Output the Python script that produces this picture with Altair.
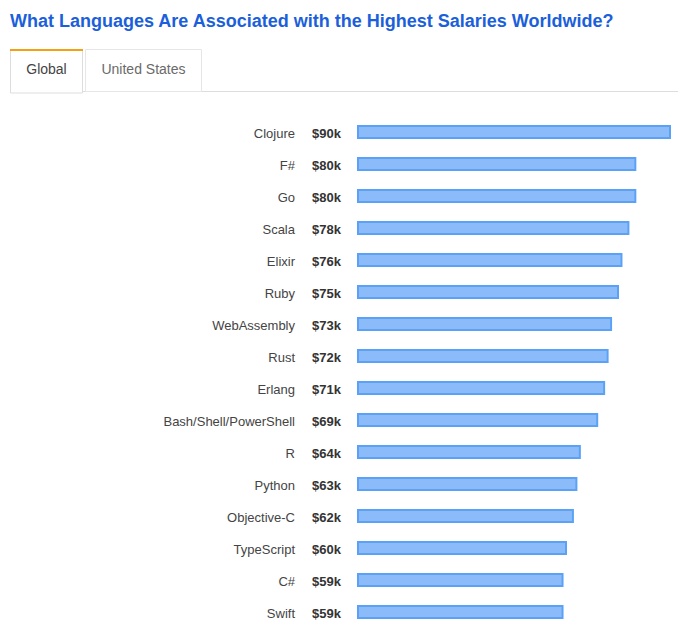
import altair as alt
import pandas as pd

title_text = "What Languages Are Associated with the Highest Salaries Worldwide?"
tab_labels = ["Global", "United States"]

languages = ["Clojure", "F#", "Go", "Scala", "Elixir", "Ruby", "WebAssembly", "Rust",
             "Erlang", "Bash/Shell/PowerShell", "R", "Python", "Objective-C",
             "TypeScript", "C#", "Swift"]
salaries_k = [90, 80, 80, 78, 76, 75, 73, 72, 71, 69, 64, 63, 62, 60, 59, 59]

df = pd.DataFrame({
    "lang": languages,
    "salary": salaries_k,
    "label": [f"${v}k" for v in salaries_k],
})

yscale = alt.Scale(range=[116, 628], paddingInner=0, paddingOuter=0)
yenc = alt.Y("lang:N", sort=None, scale=yscale, axis=None)

base = alt.Chart(df)

bars = base.mark_bar(size=12, fill="#8bbcf9", stroke="#5ba2f7", strokeWidth=2,
                     cornerRadius=0).encode(
    x=alt.X("salary:Q", scale=alt.Scale(domain=[0, 90], range=[358, 670], zero=True, nice=False),
            axis=None),
    y=yenc,
)

names = base.mark_text(align="right", baseline="middle", fontSize=13, dy=2,
                       font="Liberation Sans", color="#444444").encode(
    x=alt.value(295), y=yenc, text="lang:N")

vals = base.mark_text(align="left", baseline="middle", fontSize=13, fontWeight="bold", dy=2,
                      font="Liberation Sans", color="#333333").encode(
    x=alt.value(312), y=yenc, text="label:N")

one = alt.Chart(pd.DataFrame({"t": [title_text]}))
title = one.mark_text(align="left", baseline="alphabetic", fontSize=18, fontWeight="bold",
                      font="Liberation Sans", color="#1b5fdb").encode(
    x=alt.value(10), y=alt.value(27), text="t:N")

dummy = alt.Chart(pd.DataFrame({"a": [0]}))
bottom_line = dummy.mark_rule(color="#dddddd", strokeWidth=1).encode(
    x=alt.value(82), x2=alt.value(678), y=alt.value(91.5))
tab_us = dummy.mark_rect(fill="white", stroke="#e6e6e6", strokeWidth=1).encode(
    x=alt.value(85.5), x2=alt.value(201.5), y=alt.value(49.5), y2=alt.value(91.5))
tab_global = dummy.mark_rect(fill="white", stroke="#dddddd", strokeWidth=1).encode(
    x=alt.value(10.5), x2=alt.value(82.5), y=alt.value(50), y2=alt.value(93))
tab_orange = dummy.mark_rect(fill="#f5a011", stroke=None).encode(
    x=alt.value(10), x2=alt.value(83), y=alt.value(49), y2=alt.value(51))

tab_df = pd.DataFrame({"t": tab_labels, "x": [46.5, 143.5], "c": ["#444444", "#6a6a6a"]})
tab_text = alt.Chart(tab_df).mark_text(align="center", baseline="alphabetic", fontSize=14,
                                       font="Liberation Sans").encode(
    x=alt.X("x:Q", scale=alt.Scale(domain=[0, 698], range=[0, 698]), axis=None),
    y=alt.value(74),
    text="t:N",
    color=alt.Color("c:N", scale=None),
)

chart = alt.layer(bottom_line, tab_us, tab_global, tab_orange, tab_text, title,
                  bars, names, vals).resolve_scale(x="independent").properties(
    width=698, height=637, padding=0, autosize=alt.AutoSizeParams(type="none"),
    background="white",
).configure_view(stroke=None)

chart.save("out.html", embed_options={"renderer": "svg", "actions": False})
